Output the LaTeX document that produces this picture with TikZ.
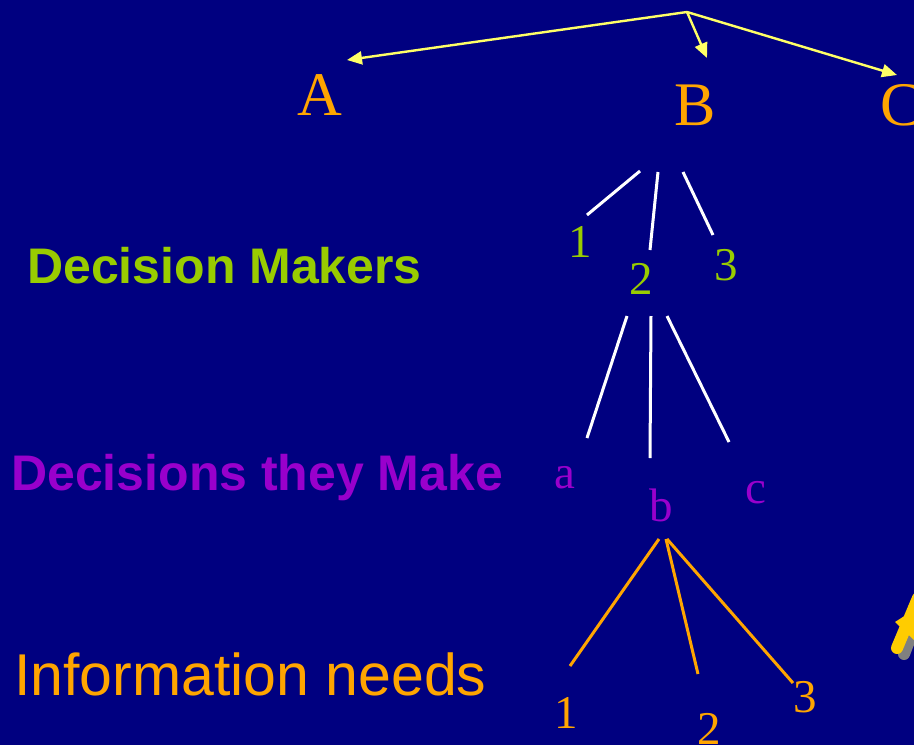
\documentclass[tikz,border=0pt]{standalone}
\usepackage{fontspec}
\setmainfont{Liberation Serif}
\setsansfont{Liberation Sans}
\usetikzlibrary{arrows.meta}
\definecolor{navy}{RGB}{0,0,128}
\definecolor{lborange}{RGB}{255,165,0}
\definecolor{lbgreen}{RGB}{153,204,0}
\definecolor{lbpurple}{RGB}{153,0,204}
\definecolor{lbyellow}{RGB}{255,255,102}
\definecolor{clipyellow}{RGB}{255,204,0}
\tikzset{
  big/.style={inner sep=0pt, text=lborange, font=\fontsize{62}{62}\selectfont},
  small/.style={inner sep=0pt, font=\fontsize{47}{47}\selectfont},
  heading/.style={inner sep=0pt, anchor=base west, font=\sffamily\bfseries\fontsize{50}{50}\selectfont},
  yarrow/.style={draw=lbyellow, line width=2.4pt, -{Triangle[length=15pt,width=13pt]}},
  wline/.style={draw=white, line width=3pt},
  oline/.style={draw=lborange, line width=3pt},
}
\begin{document}
\begin{tikzpicture}[x=1pt,y=-1pt]
\fill[navy] (0,0) rectangle (914,745);
\useasboundingbox (0,0) rectangle (914,745);
\begin{scope}
\clip (0,0) rectangle (914,745);
% top letters
\node[big] (A) at (320,95) {A};
\node[big] (B) at (695,105) {B};
\node[big, anchor=west] (C) at (880,105) {C};
\coordinate (top) at (687,12);
\coordinate (tA) at (347,60);
\coordinate (tB) at (707,58);
\coordinate (tC) at (897,75);
\draw[yarrow] (top) -- (tA);
\draw[yarrow] (top) -- (tB);
\draw[yarrow] (top) -- (tC);
% level 1
\node[small, text=lbgreen] (g1) at (580,242) {1};
\node[small, text=lbgreen] (g2) at (641,279) {2};
\node[small, text=lbgreen] (g3) at (726,265) {3};
\coordinate (w1s) at (640,171); \coordinate (w1e) at (587,215);
\coordinate (w2s) at (658,172); \coordinate (w2e) at (650,250);
\coordinate (w3s) at (683,172); \coordinate (w3e) at (713,235);
\draw[wline] (w1s) -- (w1e);
\draw[wline] (w2s) -- (w2e);
\draw[wline] (w3s) -- (w3e);
% level 2
\node[small, text=lbpurple] (pa) at (565,478) {a};
\node[small, text=lbpurple] (pb) at (661,505) {b};
\node[small, text=lbpurple] (pc) at (756,493) {c};
\coordinate (w4s) at (627,316); \coordinate (w4e) at (587,438);
\coordinate (w5s) at (651,316); \coordinate (w5e) at (650,458);
\coordinate (w6s) at (667,316); \coordinate (w6e) at (729,442);
\draw[wline] (w4s) -- (w4e);
\draw[wline] (w5s) -- (w5e);
\draw[wline] (w6s) -- (w6e);
% level 3
\node[small, text=lborange] (o1) at (566,713) {1};
\node[small, text=lborange] (o2) at (709,729) {2};
\node[small, text=lborange] (o3) at (805,697) {3};
\coordinate (o1s) at (659,539); \coordinate (o1e) at (570,666);
\coordinate (o2s) at (666,539); \coordinate (o2e) at (698,674);
\coordinate (o3s) at (667,539); \coordinate (o3e) at (793,683);
\draw[oline] (o1s) -- (o1e);
\draw[oline] (o2s) -- (o2e);
\draw[oline] (o3s) -- (o3e);
% headings
\node[heading, text=lbgreen] (h1) at (27,283) {Decision Makers};
\node[heading, text=lbpurple] (h2) at (11,490) {Decisions they Make};
\node[inner sep=0pt, anchor=base west, text=lborange, font=\sffamily\fontsize{59}{59}\selectfont] (h3) at (14,695) {Information needs};
% clipart fragment
\draw[gray, line width=12pt, line cap=round] (904,654) -- (918,618);
\draw[clipyellow, line width=12pt, line cap=round] (897,648) -- (918,598);
\fill[clipyellow] (895,622) -- (906,615) -- (914,600) -- (914,640) -- cycle;
\end{scope}
\end{tikzpicture}
\end{document}
